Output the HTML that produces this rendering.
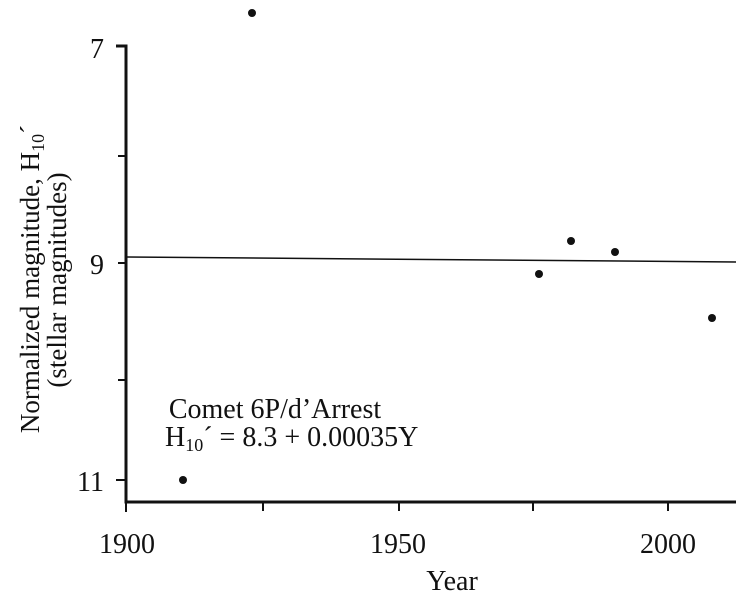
<!DOCTYPE html>
<html><head><meta charset="utf-8"><style>
body{margin:0;background:#fff}
svg{display:block}
text{font-family:"Liberation Serif",serif;fill:#111}
</style></head><body>
<svg width="747" height="599" viewBox="0 0 747 599">
<g stroke="#111" fill="none">
<path d="M116,46 H126 V502 H736" stroke-width="3"/>
<line x1="118" y1="156" x2="126" y2="156" stroke-width="2"/>
<line x1="118" y1="263" x2="126" y2="263" stroke-width="2"/>
<line x1="118" y1="380" x2="126" y2="380" stroke-width="2"/>
<line x1="116" y1="480" x2="126" y2="480" stroke-width="2"/>
<line x1="126" y1="502" x2="126" y2="512" stroke-width="2"/>
<line x1="263" y1="502" x2="263" y2="511" stroke-width="2"/>
<line x1="399" y1="502" x2="399" y2="511" stroke-width="2"/>
<line x1="533" y1="502" x2="533" y2="511" stroke-width="2"/>
<line x1="668" y1="502" x2="668" y2="511" stroke-width="2"/>
<line x1="126" y1="257" x2="736" y2="262" stroke-width="1.5"/>
</g>
<g fill="#111">
<circle cx="183" cy="480" r="4"/>
<circle cx="252" cy="13" r="4"/>
<circle cx="539" cy="274" r="4"/>
<circle cx="571" cy="241" r="4"/>
<circle cx="615" cy="252" r="4"/>
<circle cx="712" cy="318" r="4"/>
</g>
<g font-size="28">
<text x="104" y="58" text-anchor="end">7</text>
<text x="104" y="274" text-anchor="end">9</text>
<text x="104" y="491" text-anchor="end">11</text>
<text x="127" y="553" text-anchor="middle">1900</text>
<text x="398" y="553" text-anchor="middle">1950</text>
<text x="668" y="553" text-anchor="middle">2000</text>
<text x="452" y="590" text-anchor="middle">Year</text>
<text x="275" y="418" text-anchor="middle">Comet 6P/d’Arrest</text>
<text x="165" y="446">H<tspan font-size="18" dy="5">10</tspan><tspan dy="-5">´ = 8.3 + 0.00035Y</tspan></text>
<text font-size="27" transform="translate(39,279) rotate(-90)" text-anchor="middle">Normalized magnitude, H<tspan font-size="18" dy="5">10</tspan><tspan dy="-5">´</tspan></text>
<text font-size="27" transform="translate(66,280) rotate(-90)" text-anchor="middle">(stellar magnitudes)</text>
</g>
</svg>
</body></html>
